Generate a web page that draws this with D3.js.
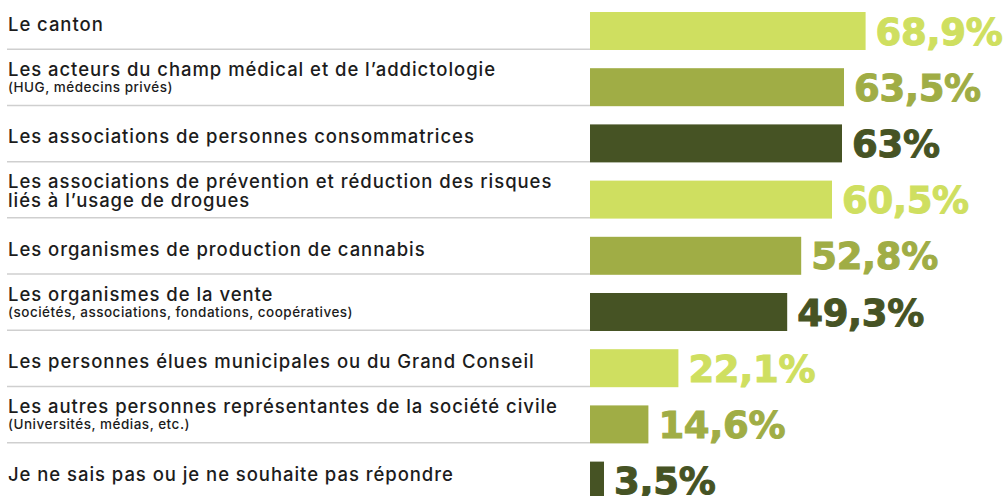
<!DOCTYPE html>
<html lang="fr">
<head>
<meta charset="utf-8">
<script src="https://cdn.jsdelivr.net/npm/d3@7"></script>
<style>
  html, body { margin: 0; padding: 0; background: #fff; }
  svg { display: block; }
  .label { font-family: Inter, "Liberation Sans", sans-serif; font-size: 18.5px; font-weight: 450; letter-spacing: 0.95px; fill: #1c1c1c; }
  .note { font-family: Inter, "Liberation Sans", sans-serif; font-size: 13.5px; font-weight: 450; letter-spacing: 0.5px; fill: #1c1c1c; }
  .value { font-family: "DejaVu Sans", sans-serif; font-weight: bold; font-size: 37px; letter-spacing: -0.3px; stroke-width: 1; }
</style>
</head>
<body>
<svg id="chart" width="1004" height="496"></svg>
<script>
// Rows top to bottom. "\n" marks where the reference breaks a long label.
var categories = [
  'Le canton',
  'Les acteurs du champ médical et de l’addictologie',
  'Les associations de personnes consommatrices',
  'Les associations de prévention et réduction des risques\nliés à l’usage de drogues',
  'Les organismes de production de cannabis',
  'Les organismes de la vente',
  'Les personnes élues municipales ou du Grand Conseil',
  'Les autres personnes représentantes de la société civile',
  'Je ne sais pas ou je ne souhaite pas répondre'
];

var notes = [
  '',
  '(HUG, médecins privés)',
  '',
  '',
  '',
  '(sociétés, associations, fondations, coopératives)',
  '',
  '(Universités, médias, etc.)',
  ''
];

var values = [68.9, 63.5, 63, 60.5, 52.8, 49.3, 22.1, 14.6, 3.5];

var palette = ['#cfdf60', '#a0ad45', '#465324'];

var svg = d3.select('#chart');

var x = d3.scaleLinear().domain([0, 100]).range([590, 990]);
var y = d3.scaleBand()
  .domain(categories)
  .range([12, 499.6])
  .paddingInner(0.324)
  .paddingOuter(0);

var rows = categories.map(function (c, i) {
  return { category: c, note: notes[i], value: values[i], color: palette[i % 3], index: i };
});

var fmt = d3.format('.1f');
function pct(v) {
  var s = Number.isInteger(v) ? String(v) : fmt(v);
  return s.replace('.', ',') + '%';
}

var row = svg.selectAll('.row')
  .data(rows)
  .enter()
  .append('g')
  .classed('row', true)
  .attr('transform', function (d) { return 'translate(0,' + y(d.category) + ')'; });

// separators (none under the last row)
row.filter(function (d) { return d.index < rows.length - 1; })
  .append('line')
  .attr('x1', 7)
  .attr('x2', x(0))
  .attr('y1', y.bandwidth() - 0.75)
  .attr('y2', y.bandwidth() - 0.75)
  .attr('stroke', '#cfcfcf')
  .attr('stroke-width', 1.5);

row.append('rect')
  .attr('x', x(0))
  .attr('y', 0)
  .attr('width', function (d) { return x(d.value) - x(0); })
  .attr('height', y.bandwidth())
  .attr('fill', function (d) { return d.color; });

row.append('text')
  .classed('value', true)
  .attr('x', function (d) { return x(d.value) + 10; })
  .attr('y', 32.5)
  .attr('fill', function (d) { return d.color; })
  .attr('stroke', function (d) { return d.color; })
  .text(function (d) { return pct(d.value); });

row.each(function (d) {
  var g = d3.select(this);
  var lines = d.category.split('\n');
  var twoLines = lines.length > 1 || d.note;
  var mainY = twoLines ? 7.5 : 19;
  lines.forEach(function (line, k) {
    g.append('text')
      .classed('label', true)
      .attr('x', 8)
      .attr('y', mainY + k * 18.5)
      .text(line);
  });
  if (d.note) {
    g.append('text')
      .classed('note', true)
      .attr('x', 8)
      .attr('y', 24)
      .text(d.note);
  }
});
</script>
</body>
</html>
